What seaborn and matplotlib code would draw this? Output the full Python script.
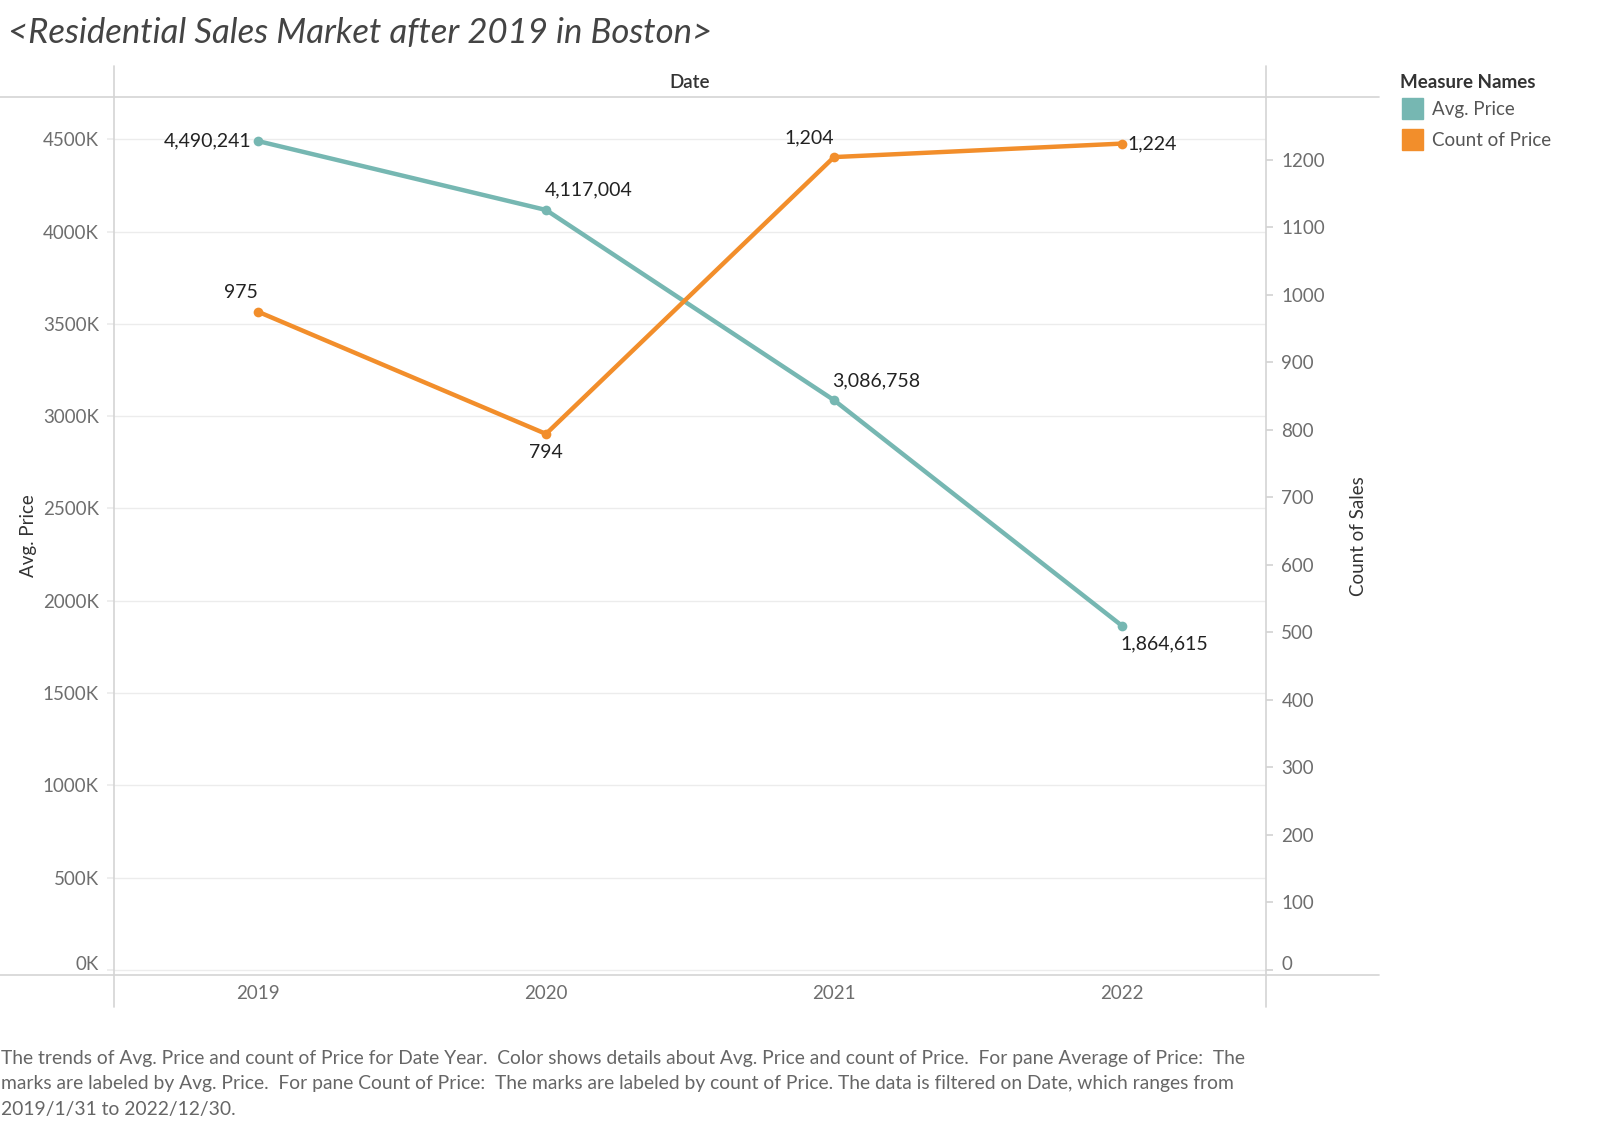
import matplotlib
matplotlib.use("Agg")
import matplotlib.pyplot as plt
from matplotlib.lines import Line2D
from matplotlib.patches import Rectangle
from matplotlib.ticker import FuncFormatter, MultipleLocator
from matplotlib.transforms import ScaledTranslation
import seaborn as sns
import pandas as pd

sns.set_theme(style="white")
plt.rcParams["font.family"] = ["Lato", "DejaVu Sans"]

# data
years = [2019, 2020, 2021, 2022]
avg_price = [4490241, 4117004, 3086758, 1864615]
count_price = [975, 794, 1204, 1224]

TEAL = "#76b7b2"
ORANGE = "#f28e2b"
GRAY = "#6e6e6e"
LINE = "#d4d4d4"

df = pd.DataFrame({"year": years, "avg": avg_price, "count": count_price})

fig = plt.figure(figsize=(16.1, 11.25), dpi=100)
ax = fig.add_axes([114 / 1610, 1 - 975 / 1125, 1152 / 1610, 878 / 1125])
ax2 = ax.twinx()

sns.lineplot(data=df, x="year", y="avg", ax=ax, color=TEAL, linewidth=3.2,
             marker="o", markersize=7, markeredgewidth=0, zorder=3)
sns.lineplot(data=df, x="year", y="count", ax=ax2, color=ORANGE, linewidth=3.2,
             marker="o", markersize=7, markeredgewidth=0, zorder=3)

ax.set_xlim(2018.5, 2022.5)
ax.set_ylim(-27000, 4729000)
ax2.set_ylim(-7.4, 1293)

ax.yaxis.set_major_locator(MultipleLocator(500000))
ax.yaxis.set_major_formatter(FuncFormatter(lambda v, p: f"{v/1000:.0f}K"))
ax2.yaxis.set_major_locator(MultipleLocator(100))
ax.set_xticks(years)
ax.set_xticklabels([str(y) for y in years])

ax.grid(axis="y", color="#ececec", linewidth=1)
ax.grid(axis="x", visible=False)
ax2.grid(False)
for a in (ax, ax2):
    for s in a.spines.values():
        s.set_visible(False)

ax.tick_params(axis="y", labelsize=13.5, labelcolor=GRAY, length=5, color="#ececec", pad=6)
ax.tick_params(axis="x", labelsize=13.5, labelcolor=GRAY, length=0, pad=7)
ax2.tick_params(axis="y", labelsize=13.5, labelcolor=GRAY, length=5, color=LINE, pad=6)
ax.set_xlabel("")
ax.set_ylabel("Avg. Price", fontsize=13.5, color="#333333")
ax2.set_ylabel("Count of Sales", fontsize=13.5, color="#333333")
ax.yaxis.set_label_coords(-0.067, 0.5)
ax2.yaxis.set_label_coords(1.073, 0.5)

# data labels
lab = dict(fontsize=14, color="#222222", textcoords="offset points")
ax.annotate(f"{avg_price[0]:,}", (years[0], avg_price[0]), xytext=(-5, 0), ha="right", va="center", **lab)
ax.annotate(f"{avg_price[1]:,}", (years[1], avg_price[1]), xytext=(-1, 8), ha="left", va="bottom", **lab)
ax.annotate(f"{avg_price[2]:,}", (years[2], avg_price[2]), xytext=(-1, 8), ha="left", va="bottom", **lab)
ax.annotate(f"{avg_price[3]:,}", (years[3], avg_price[3]), xytext=(-1, -7), ha="left", va="top", **lab)
ax2.annotate(f"{count_price[0]:,}", (years[0], count_price[0]), xytext=(0, 8), ha="right", va="bottom", **lab)
ax2.annotate(f"{count_price[1]:,}", (years[1], count_price[1]), xytext=(0, -7), ha="center", va="top", **lab)
ax2.annotate(f"{count_price[2]:,}", (years[2], count_price[2]), xytext=(0, 8), ha="right", va="bottom", **lab)
ax2.annotate(f"{count_price[3]:,}", (years[3], count_price[3]), xytext=(4, 0), ha="left", va="center", **lab)

# Tableau-style frame lines
W, H = 1610, 1125
def fl(x0, y0, x1, y1):
    fig.add_artist(Line2D([x0 / W, x1 / W], [1 - y0 / H, 1 - y1 / H], color=LINE, linewidth=1.2))
fl(0, 97, 1379, 97)
fl(0, 975, 1379, 975)
fl(114, 66, 114, 1007)
fl(1266, 66, 1266, 1007)

fig.text(690 / W, 1 - 82 / H, "Date", ha="center", va="center", fontsize=13.5,
         color="#333333", fontweight="semibold")

fig.text(8 / W, 1 - 33 / H, "<Residential Sales Market after 2019 in Boston>", ha="left", va="center",
         fontsize=25, color="#444444", style="italic", fontweight="normal")

# legend
fig.text(1400 / W, 1 - 82 / H, "Measure Names", ha="left", va="center", fontsize=13.5,
         color="#333333", fontweight="bold")
for i, (name, c) in enumerate([("Avg. Price", TEAL), ("Count of Price", ORANGE)]):
    y = 98 + i * 31
    fig.add_artist(Rectangle((1402 / W, 1 - (y + 21) / H), 21 / W, 21 / H, color=c, transform=fig.transFigure))
    fig.text(1432 / W, 1 - (y + 11) / H, name, ha="left", va="center", fontsize=13.5, color="#555555")

caption = ("The trends of Avg. Price and count of Price for Date Year.  Color shows details about Avg. Price and count of Price.  For pane Average of Price:  The\n"
           "marks are labeled by Avg. Price.  For pane Count of Price:  The marks are labeled by count of Price. The data is filtered on Date, which ranges from\n"
           "2019/1/31 to 2022/12/30.")
fig.text(1 / W, 1 - 1050 / H, caption, ha="left", va="top", fontsize=13.9, color="#666666", linespacing=1.6)

# lift the zero labels off the bottom line, as Tableau does
fig.canvas.draw()
lift = ScaledTranslation(0, 0.07, fig.dpi_scale_trans)
for a in (ax, ax2):
    for t in a.yaxis.get_major_ticks():
        if abs(t.get_loc()) < 1e-9:
            t.label1.set_transform(t.label1.get_transform() + lift)
            t.label2.set_transform(t.label2.get_transform() + lift)

fig.savefig("out.png", dpi=100)
